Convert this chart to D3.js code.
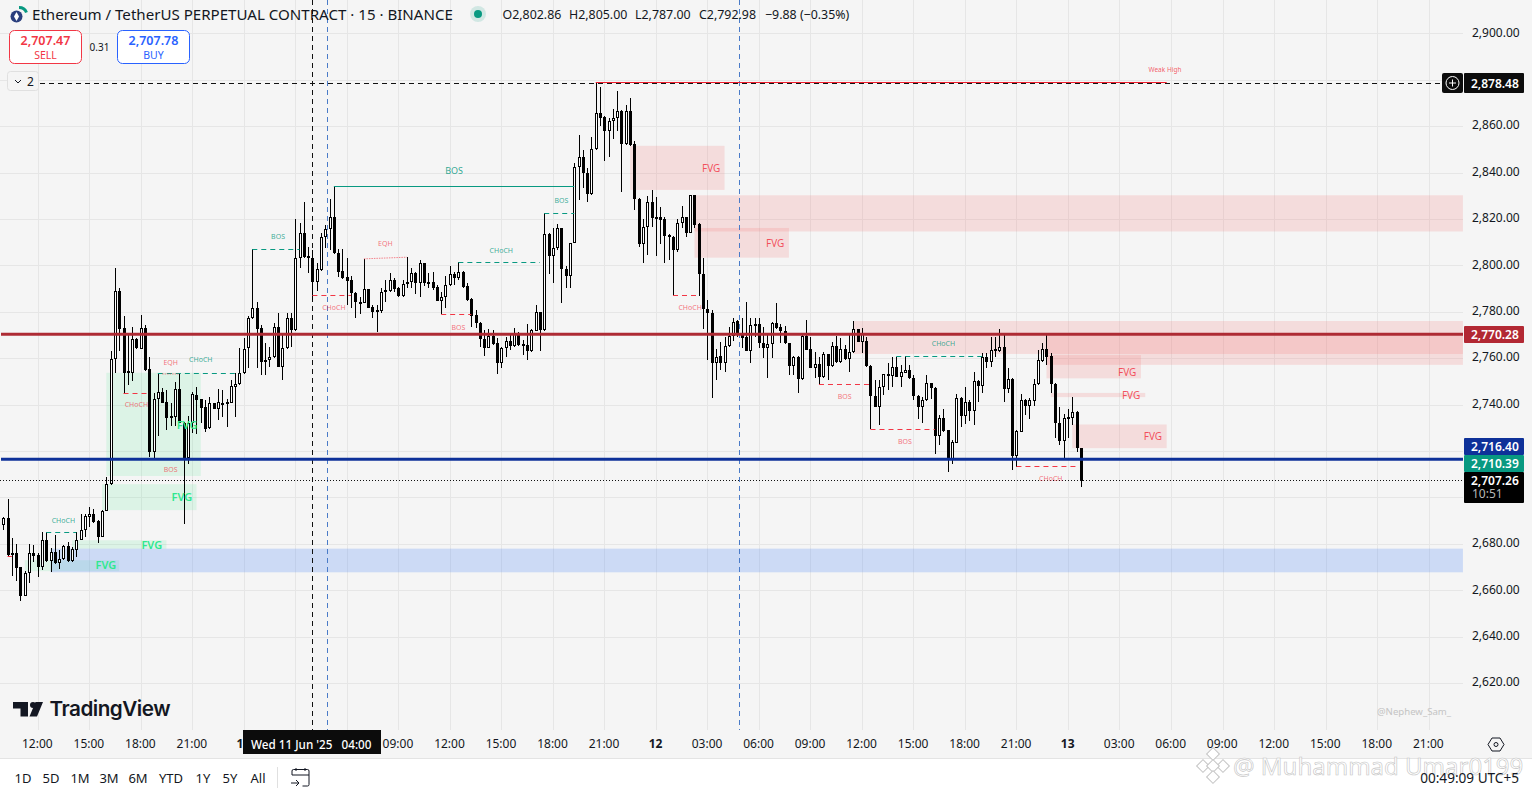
<!DOCTYPE html>
<html>
<head>
<meta charset="utf-8">
<title>ETHUSDT.P 15</title>
<script src="https://cdn.jsdelivr.net/npm/d3@7"></script>
<style>
  html, body { margin: 0; padding: 0; background: #fff; overflow: hidden; }
  svg { display: block; font-family: "Noto Sans", sans-serif; }
  .axis path { display: none; }
  .axis line { display: none; }
</style>
</head>
<body>
<div id="chart"></div>
<script>
// candles, 15 min bars
const opens = [2688.3,2690.9,2675.2,2676.2,2669.8,2657.7,2667.6,2676.2,2675.1,2670.2,2681.8,2672.6,2676.6,2671.9,2673.5,2679.2,2672.5,2677.5,2681.8,2686.1,2691.6,2693.0,2689.7,2683.0,2694.2,2705.6,2759.5,2788.8,2772.9,2754.3,2753.7,2768.3,2763.9,2772.9,2755.2,2719.6,2742.5,2745.2,2740.9,2735.0,2734.7,2746.5,2732.2,2716.8,2731.9,2744.1,2742.2,2738.8,2729.7,2740.5,2738.3,2740.8,2740.1,2740.8,2747.7,2748.7,2753.4,
  2764.2,2777.2,2781.5,2772.9,2759.1,2759.1,2760.7,2773.3,2756.3,2764.2,2777.2,2772.1,2803.1,2813.9,2803.9,2803.1,2793.0,2798.0,2812.1,2815.6,2820.8,2805.2,2797.5,2794.9,2793.7,2788.0,2784.3,2783.6,2789.7,2781.9,2779.8,2780.5,2788.4,2789.1,2793.7,2790.1,2787.0,2791.8,2793.0,2796.6,2792.6,2800.9,2792.9,2792.7,2790.8,2784.8,2786.5,2791.4,2796.2,2794.7,2797.2,2791.0,2785.4,2778.5,2775.0,2768.1,2764.5,2769.7,2766.4,2758.1,2764.2,2767.4,2765.4,2770.7,2766.1,2765.7,2763.2,2771.7,2779.8,2772.1,
  2813.4,2804.2,2807.4,2816.0,2798.3,2795.6,2809.8,2842.2,2846.5,2839.7,2830.7,2850.1,2865.6,2863.9,2857.7,2862.3,2863.5,2866.5,2852.2,2866.5,2852.2,2828.5,2809.1,2816.7,2827.2,2821.0,2820.7,2819.9,2813.1,2812.1,2806.4,2818.2,2820.7,2814.1,2830.2,2817.9,2796.1,2781.1,2779.3,2758.1,2760.9,2757.8,2765.1,2769.6,2776.0,2771.0,2769.3,2763.2,2774.7,2774.6,2766.4,2764.5,2766.0,2775.0,2773.3,2771.9,2766.4,
  2756.7,2760.3,2750.9,2769.7,2763.8,2755.9,2757.5,2752.0,2761.8,2756.7,2765.4,2758.2,2763.8,2759.5,2762.5,2772.4,2767.1,2767.2,2756.7,2743.8,2739.1,2747.7,2753.2,2752.5,2756.2,2752.0,2753.7,2754.9,2751.3,2743.8,2739.1,2741.9,2749.1,2747.0,2726.6,2734.1,2729.0,2716.1,2723.5,2742.7,2735.1,2741.2,2737.3,2750.1,2748.0,2760.6,2758.5,2763.8,2763.2,2764.7,2746.7,2750.9,2717.9,2728.3,2741.9,2739.4,2741.7,2748.8,2758.9,2763.8,2760.9,2748.8,2732.2,2724.4,2734.5,2734.3,2736.6,2721.1];
const highs = [2691.6,2699.1,2682.3,2680.1,2670.0,2668.3,2680.1,2679.4,2676.1,2685.1,2685.1,2678.0,2683.7,2677.2,2679.4,2680.8,2678.4,2685.1,2693.0,2693.0,2695.9,2695.2,2690.2,2694.5,2708.9,2763.1,2798.7,2790.1,2778.2,2770.0,2773.6,2768.5,2778.6,2774.3,2760.6,2744.8,2753.4,2747.0,2746.2,2740.5,2749.8,2753.4,2732.6,2735.0,2745.2,2747.7,2742.6,2741.9,2743.4,2740.8,2746.5,2746.2,2742.6,2750.6,2753.4,2764.2,2768.5,
  2778.3,2806.9,2784.4,2774.3,2766.4,2765.0,2775.0,2779.3,2770.7,2779.6,2779.6,2819.9,2818.2,2827.2,2807.8,2806.7,2801.2,2813.9,2817.4,2828.5,2834.3,2806.9,2806.9,2803.1,2795.2,2788.7,2786.5,2802.8,2789.7,2782.9,2782.9,2790.1,2793.7,2796.6,2794.4,2790.8,2793.7,2803.5,2798.7,2797.3,2802.3,2801.2,2796.6,2797.3,2791.6,2788.3,2795.2,2799.5,2797.3,2801.3,2797.6,2792.6,2785.8,2780.8,2775.7,2772.1,2772.4,2772.1,2768.5,2765.0,2769.3,2770.7,2772.9,2771.4,2767.8,2774.6,2772.4,2782.9,2779.8,2822.5,
  2813.8,2816.0,2817.7,2816.0,2799.5,2809.8,2844.3,2856.3,2849.8,2841.9,2855.3,2878.9,2876.8,2864.2,2863.5,2867.3,2875.0,2866.8,2869.2,2872.1,2853.7,2828.9,2820.0,2829.7,2832.5,2829.4,2825.1,2820.7,2813.6,2812.7,2820.0,2825.6,2821.0,2830.2,2830.2,2818.2,2803.1,2785.1,2780.8,2763.8,2767.1,2769.3,2773.6,2777.2,2776.4,2777.2,2784.1,2777.2,2777.2,2777.2,2773.6,2770.7,2775.7,2783.6,2774.7,2773.9,2766.4,
  2760.9,2760.9,2770.0,2776.5,2769.0,2762.8,2760.6,2762.8,2761.8,2767.1,2769.7,2768.5,2765.7,2770.0,2776.2,2772.4,2772.9,2769.3,2757.0,2750.6,2750.6,2753.2,2757.8,2760.4,2760.6,2757.0,2760.9,2757.0,2752.7,2744.1,2743.4,2752.7,2749.4,2747.4,2735.5,2738.3,2729.0,2724.7,2744.4,2743.4,2747.4,2741.9,2754.2,2750.6,2762.1,2762.1,2769.3,2769.0,2772.6,2770.0,2755.6,2751.3,2729.2,2744.4,2742.4,2742.7,2751.0,2763.5,2766.7,2770.0,2762.1,2749.1,2739.1,2735.9,2738.3,2743.4,2737.2,2721.1];
const lows = [2686.1,2674.4,2666.2,2664.0,2655.4,2657.5,2663.1,2672.2,2665.7,2668.6,2672.2,2667.9,2671.5,2669.3,2673.2,2672.2,2672.2,2674.4,2681.5,2683.0,2687.3,2689.0,2680.4,2683.0,2694.2,2705.3,2753.7,2763.2,2744.8,2748.4,2750.1,2763.8,2763.8,2754.6,2717.5,2716.8,2726.4,2740.5,2729.0,2730.9,2730.9,2731.9,2688.7,2714.3,2727.6,2727.3,2731.9,2728.3,2729.4,2737.9,2733.3,2734.5,2730.4,2740.5,2734.7,2748.4,2753.1,
  2755.6,2776.9,2755.6,2752.7,2752.7,2756.3,2759.9,2756.3,2750.6,2763.9,2765.0,2771.8,2799.0,2803.1,2796.6,2785.1,2789.1,2797.6,2807.4,2806.7,2804.9,2794.9,2794.0,2782.9,2781.5,2777.2,2779.1,2783.6,2781.5,2777.2,2771.4,2779.6,2784.4,2788.7,2788.7,2786.2,2786.5,2790.1,2790.3,2787.7,2786.5,2791.1,2790.1,2789.4,2784.7,2778.9,2781.5,2791.1,2791.6,2793.7,2790.1,2784.7,2773.3,2772.9,2765.0,2760.9,2764.2,2765.7,2753.2,2755.6,2760.6,2763.5,2765.0,2765.2,2761.4,2759.2,2762.8,2771.7,2763.2,2771.8,
  2796.3,2792.6,2806.7,2783.9,2790.4,2790.4,2809.5,2828.2,2833.3,2827.5,2830.4,2849.8,2859.9,2844.8,2846.5,2854.4,2858.1,2831.8,2851.9,2851.5,2823.9,2807.7,2800.9,2804.5,2816.7,2804.2,2809.2,2801.2,2802.3,2786.8,2805.9,2816.0,2812.0,2813.8,2816.3,2786.8,2772.4,2759.2,2742.9,2750.6,2754.9,2754.2,2764.9,2767.5,2769.3,2764.2,2763.2,2758.1,2769.3,2764.2,2759.9,2751.3,2759.9,2772.6,2766.4,2766.1,2752.7,
  2752.7,2745.1,2750.6,2763.5,2755.6,2751.3,2748.7,2751.6,2750.6,2756.3,2757.8,2757.8,2759.2,2754.2,2762.1,2766.8,2762.1,2756.3,2729.3,2738.8,2731.2,2744.1,2746.3,2747.7,2751.7,2747.4,2753.4,2751.0,2741.9,2733.6,2732.2,2741.7,2742.4,2718.9,2722.5,2728.3,2711.0,2714.3,2723.3,2730.4,2731.6,2733.0,2731.2,2741.2,2744.8,2755.9,2756.3,2760.6,2762.8,2741.2,2744.8,2711.7,2713.2,2728.0,2735.5,2733.6,2739.4,2748.4,2758.5,2757.0,2745.1,2725.4,2722.5,2716.8,2725.8,2731.2,2719.6,2704.6];
const closes = [2690.9,2675.1,2676.1,2669.6,2657.5,2667.6,2676.1,2674.8,2670.0,2681.8,2672.5,2676.5,2671.8,2673.6,2679.2,2672.5,2677.6,2681.8,2686.1,2691.9,2693.0,2689.5,2683.0,2694.2,2705.6,2759.5,2788.8,2772.6,2753.7,2753.7,2768.1,2764.2,2772.9,2754.9,2719.6,2742.6,2745.2,2740.8,2734.3,2734.5,2746.5,2732.2,2716.8,2732.2,2744.4,2741.9,2738.6,2729.3,2740.5,2738.2,2740.9,2740.3,2740.9,2747.8,2748.7,2753.4,2763.8,
  2777.2,2781.5,2772.6,2758.5,2758.6,2760.7,2773.3,2756.3,2764.2,2777.2,2772.1,2803.1,2813.9,2803.5,2803.1,2793.0,2798.3,2812.1,2815.6,2820.8,2805.2,2797.3,2794.7,2793.4,2788.0,2784.1,2783.9,2789.7,2781.8,2779.8,2780.8,2788.4,2789.3,2793.7,2789.8,2786.8,2791.8,2793.0,2796.6,2792.6,2800.9,2792.3,2792.5,2790.1,2784.8,2786.5,2791.4,2796.2,2794.7,2797.2,2790.6,2785.1,2778.3,2775.0,2768.1,2764.5,2769.7,2766.1,2758.1,2764.2,2767.4,2765.4,2770.7,2765.7,2765.4,2763.2,2772.0,2779.8,2772.1,2813.4,
  2804.2,2807.4,2816.0,2798.3,2795.6,2809.8,2842.2,2846.5,2839.7,2830.7,2850.1,2865.6,2863.7,2857.7,2862.3,2863.5,2866.5,2852.2,2866.5,2851.9,2828.5,2809.1,2816.7,2827.2,2820.6,2820.6,2819.7,2812.8,2812.0,2806.4,2818.2,2820.7,2814.1,2830.2,2817.4,2796.1,2781.1,2779.3,2758.1,2760.6,2758.1,2765.1,2769.6,2775.7,2770.7,2768.8,2763.2,2774.2,2773.9,2766.4,2764.4,2766.0,2775.0,2772.9,2771.9,2766.4,2756.6,
  2760.3,2750.9,2769.7,2763.5,2755.9,2757.3,2752.0,2761.8,2756.7,2765.4,2758.2,2763.8,2759.6,2762.5,2772.4,2767.1,2770.3,2756.7,2743.8,2739.1,2747.7,2753.0,2752.5,2756.0,2752.0,2754.0,2754.9,2751.3,2743.8,2739.1,2741.9,2749.1,2747.0,2726.6,2734.1,2728.7,2716.1,2723.7,2742.7,2735.1,2741.2,2737.3,2750.1,2748.0,2760.3,2758.5,2763.5,2763.2,2764.7,2746.7,2750.9,2717.9,2728.6,2741.9,2739.4,2741.9,2748.8,2759.2,2763.8,2760.3,2748.8,2732.2,2724.4,2734.2,2734.1,2736.6,2721.1,2707.26];

const priceTicks = [2900,2880,2860,2840,2820,2800,2780,2760,2740,2720,2700,2680,2660,2640,2620];
const priceLabelTicks = [2900,2860,2840,2820,2800,2780,2760,2740,2680,2660,2640,2620];
const timeTickBars = [8,20,32,44,56,68,80,92,104,116,128,140,152,164,176,188,200,212,224,236,248,260,272,284,296,308,320,332];
const timeTickLabels = ["12:00","15:00","18:00","21:00","11","","","09:00","12:00","15:00","18:00","21:00","12","03:00","06:00","09:00","12:00","15:00","18:00","21:00","13","03:00","06:00","09:00","12:00","15:00","18:00","21:00"];

// zones: start bar, end bar, top price, bottom price
const greenZones = [[24,46,2753.7,2709.2],[23,45,2705.7,2694.5],[16,38,2681.5,2677.9],[5,27,2672.9,2668.2]];
const blueZones = [[11,340,2677.9,2667.7]];
const redZones = [[146,168,2851.5,2832.5],[161,340,2830.2,2814.6],[161,183,2816.1,2803.3],[198,340,2776.0,2761.8],[243,340,2770.7,2757.1],[243,265,2761.3,2751.3],[244,266,2745.0,2743.2],[249,271,2731.4,2721.2]];

// structure breaks: start bar, end bar, price
const tealBreaks = [[58,69,2806.9],[106,125,2801.3],[126,133,2822.5],[10,17,2684.9],[36,55,2753.4],[208,229,2760.6]];
const redBreaks = [[72,81,2787.1],[102,109,2778.9],[156,162,2786.8],[1,2,2674.6],[28,34,2744.8],[190,202,2748.7],[202,217,2729.3],[236,250,2713.3]];
const eqhLines = [[84,94,2802.8,2803.5],[37,41,2753.2,2753.2]];
const mainBos = [77,133,2834.0];
const weakHigh = [138,271,2878.9];

// labels: text, bar, price
const tealLabels = [["BOS",105,2840.9],["BOS",64,2812.3],["CHoCH",116,2806.2],["BOS",130,2827.8],["CHoCH",14,2690.2],["CHoCH",46,2759.2],["CHoCH",219,2766.5]];
const redLabels = [["CHoCH",77,2781.6],["EQH",89,2809.2],["BOS",106,2773.4],["CHoCH",160,2781.6],["CHoCH",31,2740.2],["EQH",39,2758.3],["BOS",39,2711.9],["BOS",196,2743.4],["BOS",210,2724.0],["CHoCH",244,2708.3]];
const greenFvg = [[42.8,2731.2],[41.6,2700.1],[34.6,2679.4],[23.9,2670.8]];
const redFvg = [[164.9,2841.6],[179.8,2809.2],[261.8,2754.0],[262.7,2743.7],[267.8,2726.4]];

// levels and price tags
const levelRed = 2770.28, levelBlue = 2716.40, levelTeal = 2710.39, lastPrice = 2707.26, crossPrice = 2878.48;
const crossBar = 72, markerBars = [75.4, 171.4];
const ohlcLabels = ["O2,802.86","H2,805.00","L2,787.00","C2,792.98","−9.88 (−0.35%)"];
const rangeButtons = ["1D","5D","1M","3M","6M","YTD","1Y","5Y","All"];

const width = 1532, height = 791;
const plotRight = 1463, plotBottom = 730;

const svg = d3.select("#chart").append("svg").attr("width", width).attr("height", height);

let x = d3.scaleLinear().domain([0, 340]).range([3.3, 3.3 + 340 * 4.293]);
let y = d3.scaleLinear().domain([2620, 2900]).range([683, 33.3]);
let fmt = d3.format(",.2f");

svg.append("rect").attr("width", width).attr("height", 758).attr("fill", "#f5f5f5");
svg.append("rect").attr("y", 758).attr("width", width).attr("height", 33).attr("fill", "#fff");
svg.append("line").attr("x1", 0).attr("x2", width).attr("y1", 758.5).attr("y2", 758.5).attr("stroke", "#e4e4e4");

// grid
svg.append("g").selectAll("line").data(priceTicks).enter().append("line")
  .attr("x1", 0).attr("x2", plotRight)
  .attr("y1", d => Math.round(y(d)) + .5).attr("y2", d => Math.round(y(d)) + .5)
  .attr("stroke", "#e6e6e6");
svg.append("g").selectAll("line").data(timeTickBars).enter().append("line")
  .attr("x1", d => Math.round(x(d)) + .5).attr("x2", d => Math.round(x(d)) + .5)
  .attr("y1", 0).attr("y2", plotBottom)
  .attr("stroke", "#e6e6e6");

// zones
function drawZones(data, color) {
  svg.append("g").selectAll("rect").data(data).enter().append("rect")
    .attr("x", d => x(d[0]))
    .attr("width", d => x(d[1]) - x(d[0]))
    .attr("y", d => y(d[2]))
    .attr("height", d => y(d[3]) - y(d[2]))
    .attr("fill", color);
}
drawZones(greenZones, "rgba(45,230,120,.12)");
drawZones(blueZones, "rgba(108,155,245,.3)");
drawZones(redZones, "rgba(245,98,98,.17)");

// dashed crosshair and vertical markers
svg.append("line").attr("x1", 40).attr("x2", plotRight).attr("y1", Math.floor(y(crossPrice)) + .5).attr("y2", Math.floor(y(crossPrice)) + .5)
  .attr("stroke", "#111").attr("stroke-dasharray", "5 4");
svg.append("line").attr("x1", Math.round(x(crossBar)) + .5).attr("x2", Math.round(x(crossBar)) + .5).attr("y1", 0).attr("y2", plotBottom)
  .attr("stroke", "#111").attr("stroke-dasharray", "5 4");
svg.append("g").selectAll("line").data(markerBars).enter().append("line")
  .attr("x1", d => Math.round(x(d)) + .5).attr("x2", d => Math.round(x(d)) + .5)
  .attr("y1", 0).attr("y2", plotBottom)
  .attr("stroke", "#4a7bc8").attr("stroke-dasharray", "5 4");

// candles
const bars = d3.range(opens.length);
const candles = svg.append("g").attr("shape-rendering", "crispEdges");
candles.selectAll(".wick").data(bars).enter().append("rect")
  .attr("class", "wick")
  .attr("x", i => Math.round(x(i)))
  .attr("width", 1)
  .attr("y", i => Math.round(y(highs[i])))
  .attr("height", i => Math.max(1, Math.round(y(lows[i])) - Math.round(y(highs[i]))))
  .attr("fill", "#000");
candles.selectAll(".body").data(bars).enter().append("rect")
  .attr("class", "body")
  .attr("x", i => Math.round(x(i)) - 1)
  .attr("width", 3)
  .attr("y", i => Math.round(y(Math.max(opens[i], closes[i]))))
  .attr("height", i => Math.max(2, Math.round(y(Math.min(opens[i], closes[i]))) - Math.round(y(Math.max(opens[i], closes[i])))))
  .attr("fill", "#000");
candles.selectAll(".hollow").data(bars.filter(i => closes[i] > opens[i])).enter().append("rect")
  .attr("class", "hollow")
  .attr("x", i => Math.round(x(i)))
  .attr("width", 1)
  .attr("y", i => Math.round(y(closes[i])) + 1)
  .attr("height", i => Math.max(0, Math.round(y(opens[i])) - Math.round(y(closes[i])) - 2))
  .attr("fill", "#fff");

// structure lines
function drawBreaks(data, color, dash) {
  svg.append("g").selectAll("line").data(data).enter().append("line")
    .attr("x1", d => x(d[0])).attr("x2", d => x(d[1]))
    .attr("y1", d => Math.floor(y(d[2])) + .5).attr("y2", d => Math.floor(y(d[2])) + .5)
    .attr("stroke", color).attr("stroke-dasharray", dash);
}
drawBreaks(tealBreaks, "#089981", "5 4");
drawBreaks(redBreaks, "#f23645", "5 4");
drawBreaks([mainBos], "#089981", null);
drawBreaks([weakHigh], "#f01c2c", null);
svg.append("g").selectAll("line").data(eqhLines).enter().append("line")
  .attr("x1", d => x(d[0])).attr("x2", d => x(d[1]))
  .attr("y1", d => y(d[2])).attr("y2", d => y(d[3]))
  .attr("stroke", "#f23645").attr("stroke-opacity", .6).attr("stroke-dasharray", "1.5 1");

// main levels
svg.append("line").attr("x1", 1).attr("x2", plotRight).attr("y1", y(levelRed)).attr("y2", y(levelRed)).attr("stroke", "#ae2b34").attr("stroke-width", 3);
svg.append("line").attr("x1", 1).attr("x2", plotRight).attr("y1", y(levelBlue)).attr("y2", y(levelBlue)).attr("stroke", "#0e3199").attr("stroke-width", 3);
svg.append("line").attr("x1", 0).attr("x2", plotRight).attr("y1", Math.floor(y(lastPrice)) + .5).attr("y2", Math.floor(y(lastPrice)) + .5)
  .attr("stroke", "#111").attr("stroke-dasharray", "1 2");

// labels
function drawLabels(data, color, size, weight) {
  svg.append("g").selectAll("text").data(data).enter().append("text")
    .attr("x", d => x(d[1])).attr("y", d => y(d[2]))
    .attr("text-anchor", "middle").attr("dy", ".35em")
    .attr("font-size", size).attr("font-weight", weight).attr("fill", color)
    .text(d => d[0]);
}
drawLabels(tealLabels.slice(0, 1), "rgba(8,153,129,.85)", 9, 400);
drawLabels(tealLabels.slice(1), "rgba(8,153,129,.8)", 7, 400);
drawLabels(redLabels, "rgba(242,54,69,.7)", 7, 400);
drawLabels(greenFvg.map(d => ["FVG", d[0], d[1]]), "#2ee88f", 11, 600);
drawLabels(redFvg.map(d => ["FVG", d[0], d[1]]), "rgba(242,54,69,.85)", 10, 400);
svg.append("text").attr("x", x(270.6)).attr("y", y(2884.3)).attr("dy", ".35em").attr("text-anchor", "middle")
  .attr("font-size", 6.5).attr("fill", "rgba(242,54,69,.8)").text("Weak High");

// axes
let yAxis = d3.axisRight(y).tickValues(priceLabelTicks).tickFormat(fmt).tickSize(0).tickPadding(0);
svg.append("g").attr("class", "axis").attr("transform", "translate(1472,-1)").call(yAxis)
  .selectAll("text").attr("font-size", 12).attr("font-family", "Noto Sans").attr("fill", "#131722");
let xAxis = d3.axisBottom(x).tickValues(timeTickBars).tickFormat((d, i) => timeTickLabels[i]).tickSize(0).tickPadding(0);
svg.append("g").attr("class", "axis").attr("transform", "translate(-0.8,739)").call(xAxis)
  .selectAll("text").attr("font-size", 12).attr("font-family", "Noto Sans").attr("fill", "#131722")
  .attr("font-weight", (d, i) => timeTickLabels[i].length == 2 ? 700 : 400);

// price tags
function priceTag(top, h, color, label, sub) {
  svg.append("rect").attr("x", 1464).attr("y", top).attr("width", 60).attr("height", h).attr("rx", 1).attr("fill", color);
  svg.append("text").attr("x", 1471).attr("y", top + (h > 18 && !sub ? 14.5 : 12.5)).attr("font-size", 12).attr("font-weight", 600).attr("fill", "#fff").text(label);
  if (sub) svg.append("text").attr("x", 1472).attr("y", top + 26).attr("font-size", 12).attr("fill", "#b8b8b8").text(sub);
}
priceTag(73, 20, "#0c0c0c", fmt(crossPrice));
priceTag(326, 17, "#b22833", fmt(levelRed));
priceTag(438, 17, "#0e3199", fmt(levelBlue));
priceTag(455, 17, "#089981", fmt(levelTeal));
priceTag(472, 31, "#000", fmt(lastPrice), "10:51");

// plus button on the crosshair
svg.append("rect").attr("x", 1442).attr("y", 73).attr("width", 21).attr("height", 20).attr("rx", 2).attr("fill", "#0c0c0c");
svg.append("circle").attr("cx", 1452.5).attr("cy", 83).attr("r", 6.5).attr("fill", "none").attr("stroke", "#fff");
svg.append("path").attr("d", "M1449 83h7M1452.5 79.5v7").attr("stroke", "#fff");

// title row
let logo = svg.append("g");
logo.append("circle").attr("cx", 16.5).attr("cy", 16.5).attr("r", 6).attr("fill", "#2b3f7e");
logo.append("path").attr("d", "M16.5 12l2.5 4.5-2.5 4.5-2.5-4.5z").attr("fill", "#fff");
logo.append("path").attr("d", "M19 7.5a8 8 0 0 1 7.5 5").attr("fill", "none").attr("stroke", "#089981").attr("stroke-width", 3);
svg.append("text").attr("x", 32).attr("y", 20).attr("font-size", 15.1).attr("fill", "#131722").text("Ethereum / TetherUS PERPETUAL CONTRACT · 15 · BINANCE");
svg.append("circle").attr("cx", 478).attr("cy", 14).attr("r", 8).attr("fill", "#089981").attr("opacity", .15);
svg.append("circle").attr("cx", 478).attr("cy", 14).attr("r", 4).attr("fill", "#089981");
const ohlcX = [502.5, 569, 635, 699, 765];
svg.append("g").selectAll("text").data(ohlcLabels).enter().append("text")
  .attr("x", (d, i) => ohlcX[i]).attr("y", 19).attr("font-size", 12.4).attr("fill", "#131722").text(d => d);

// sell and buy boxes
function tradeBox(left, color, price, word) {
  svg.append("rect").attr("x", left + .5).attr("y", 30.5).attr("width", 72).attr("height", 33).attr("rx", 5).attr("fill", "#fff").attr("stroke", color);
  svg.append("text").attr("x", left + 36.5).attr("y", 45).attr("text-anchor", "middle").attr("font-size", 12.5).attr("font-weight", 600).attr("fill", color).text(price);
  svg.append("text").attr("x", left + 36.5).attr("y", 59).attr("text-anchor", "middle").attr("font-size", 10.5).attr("fill", color).text(word);
}
tradeBox(9, "#f23645", "2,707.47", "SELL");
tradeBox(117, "#2962ff", "2,707.78", "BUY");
svg.append("text").attr("x", 99.5).attr("y", 51).attr("text-anchor", "middle").attr("font-size", 10).attr("fill", "#131722").text("0.31");
svg.append("rect").attr("x", 7.5).attr("y", 71.5).attr("width", 31).attr("height", 19).attr("rx", 3).attr("fill", "#f5f5f5").attr("stroke", "#e0e0e0");
svg.append("path").attr("d", "M15 80l3 3 3-3").attr("fill", "none").attr("stroke", "#131722");
svg.append("text").attr("x", 27).attr("y", 86).attr("font-size", 12).attr("fill", "#131722").text("2");

// TradingView mark
svg.append("path").attr("d", "M13 702h15v14.5h-7.5v-8H13zM43 702l-6 14.5h-7.5l6-14.5z").attr("fill", "#131722");
svg.append("circle").attr("cx", 33).attr("cy", 705).attr("r", 3).attr("fill", "#131722");
svg.append("text").attr("x", 49.5).attr("y", 716).attr("font-size", 20.7).attr("font-weight", 600).attr("font-family", "Inter").attr("letter-spacing", -.5).attr("fill", "#131722").text("TradingView");
svg.append("text").attr("x", 1377).attr("y", 715).attr("font-size", 9.6).attr("fill", "#c4c4c4").text("@Nephew_Sam_");

// crosshair time label
svg.append("rect").attr("x", 243).attr("y", 730).attr("width", 138).attr("height", 24).attr("fill", "#0c0c0c");
svg.append("text").attr("x", 251).attr("y", 749).attr("font-size", 11.7).attr("font-weight", 500).attr("fill", "#fff").attr("xml:space", "preserve").text("Wed 11 Jun '25   04:00");

// settings hexagon
svg.append("path").attr("d", "M1492 738h8l4 6.5-4 6.5h-8l-4-6.5z").attr("fill", "none").attr("stroke", "#131722");
svg.append("circle").attr("cx", 1496).attr("cy", 744.5).attr("r", 2).attr("fill", "none").attr("stroke", "#131722");

// bottom toolbar
const buttonX = [23, 51, 80, 109, 138, 171, 203, 230, 258];
svg.append("g").selectAll("text").data(rangeButtons).enter().append("text")
  .attr("x", (d, i) => buttonX[i]).attr("y", 783).attr("text-anchor", "middle").attr("font-size", 13).attr("fill", "#131722").text(d => d);
svg.append("line").attr("x1", 277.5).attr("x2", 277.5).attr("y1", 767).attr("y2", 788).attr("stroke", "#e0e0e0");
svg.append("path").attr("d", "M292 775v-4a1.5 1.5 0 0 1 1.5-1.5h14a1.5 1.5 0 0 1 1.5 1.5v13.5a1.5 1.5 0 0 1-1.5 1.5h-5M292 775h17M296 768v3M305 768v3M291 783h8M296 780l3 3-3 3")
  .attr("fill", "none").attr("stroke", "#131722");

// repost watermark
let mark = svg.append("g").attr("fill", "#fff").attr("stroke", "#c4c4c4");
[[1213, 754], [1203, 766], [1223, 766], [1213, 766], [1213, 777]].forEach(function(p) {
  mark.append("rect").attr("x", p[0] - 4.5).attr("y", p[1] - 4.5).attr("width", 9).attr("height", 9)
    .attr("transform", `rotate(45 ${p[0]} ${p[1]})`);
});
mark.append("text").attr("x", 1233).attr("y", 775).attr("font-size", 24).attr("stroke-width", .6).text("@ Muhammad Umar0199");
svg.append("text").attr("x", 1519).attr("y", 783).attr("text-anchor", "end").attr("font-size", 13.6).attr("fill", "#131722").text("00:49:09 UTC+5");
</script>
</body>
</html>
